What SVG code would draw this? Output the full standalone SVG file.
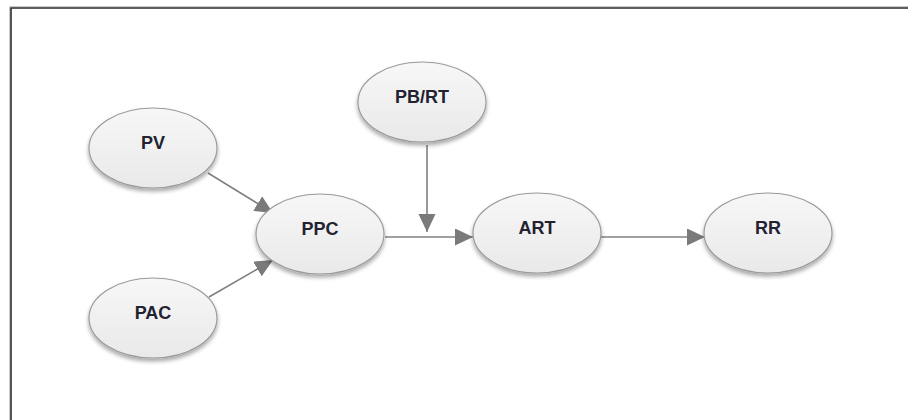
<svg xmlns="http://www.w3.org/2000/svg" width="908" height="420" viewBox="0 0 908 420">
<defs>
<linearGradient id="g" x1="0" y1="0" x2="0" y2="1">
<stop offset="0" stop-color="#f7f7f7"/>
<stop offset="1" stop-color="#e9e9e9"/>
</linearGradient>
<filter id="sh" x="-20%" y="-20%" width="140%" height="150%">
<feGaussianBlur in="SourceAlpha" stdDeviation="2"/>
<feOffset dx="0" dy="3" result="b"/>
<feComponentTransfer><feFuncA type="linear" slope="0.35"/></feComponentTransfer>
<feMerge><feMergeNode/><feMergeNode in="SourceGraphic"/></feMerge>
</filter>
<marker id="ah" markerUnits="userSpaceOnUse" markerWidth="20" markerHeight="18" refX="18" refY="8.5" orient="auto">
<path d="M0,0 L18,8.5 L0,17 z" fill="#7a7a7a"/>
</marker>
<style>
.n ellipse{fill:url(#g);stroke:#9a9a9a;stroke-width:1.2;filter:url(#sh)}
.n text{font-family:"Liberation Sans",Arial,sans-serif;font-weight:bold;font-size:18px;fill:#222230;text-anchor:middle}
.c line{stroke:#808080;stroke-width:1.6;marker-end:url(#ah)}
</style>
</defs>
<rect width="908" height="420" fill="#fff"/>
<path d="M9.5,420 V6.5 H908" fill="none" stroke="#c8c8c8" stroke-width="1"/>
<path d="M11,420 V8 H908" fill="none" stroke="#2a2a2a" stroke-width="1.6"/>
<g class="c" id="connectors">
<line x1="208" y1="173" x2="273" y2="213"/>
<line x1="209" y1="297" x2="273" y2="260"/>
<line x1="385" y1="237" x2="473" y2="237"/>
<line x1="427" y1="145" x2="427" y2="232"/>
<line x1="600" y1="237" x2="705" y2="237"/>
</g>
<g class="n" id="PV"><ellipse cx="153" cy="148" rx="64" ry="40"/><text x="153" y="149">PV</text></g>
<g class="n" id="PAC"><ellipse cx="153" cy="318" rx="64" ry="40"/><text x="153" y="319">PAC</text></g>
<g class="n" id="PPC"><ellipse cx="320" cy="234" rx="64" ry="40"/><text x="320" y="235">PPC</text></g>
<g class="n" id="PBRT"><ellipse cx="422" cy="102" rx="64" ry="40"/><text x="422" y="103">PB/RT</text></g>
<g class="n" id="ART"><ellipse cx="537" cy="233" rx="64" ry="40"/><text x="537" y="234">ART</text></g>
<g class="n" id="RR"><ellipse cx="768" cy="233" rx="64" ry="40"/><text x="768" y="234">RR</text></g>
</svg>
